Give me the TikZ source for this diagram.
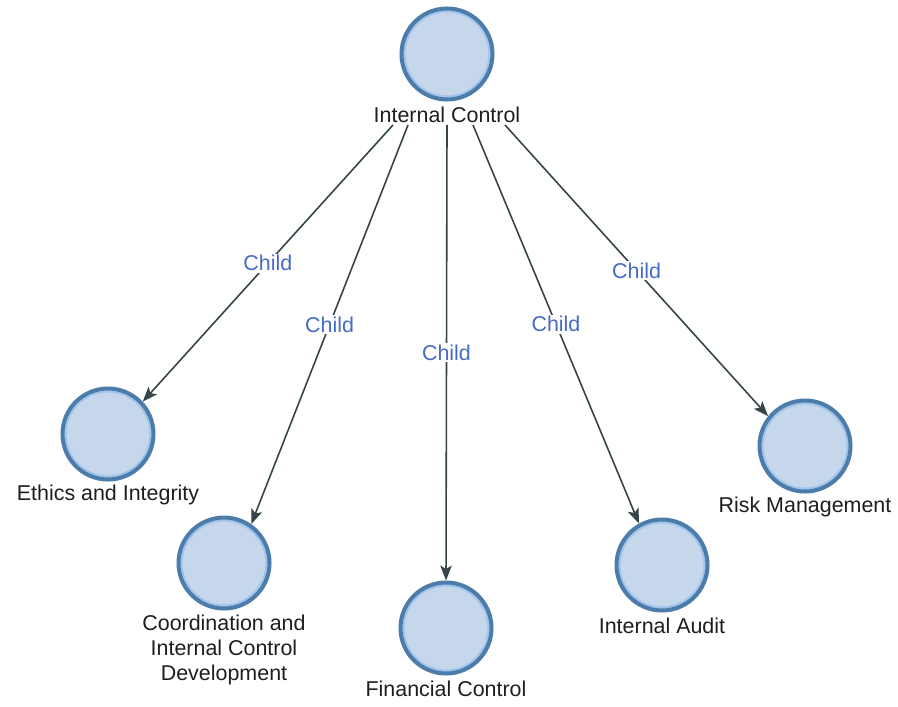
\documentclass[tikz,border=0pt]{standalone}
\usepackage{fontspec}
\setmainfont{Liberation Sans}
\usetikzlibrary{arrows.meta}
\definecolor{nodefill}{RGB}{198,214,235}
\definecolor{nodeline}{RGB}{76,124,170}
\definecolor{ringlight}{RGB}{160,196,236}
\definecolor{edgeline}{RGB}{52,68,72}
\definecolor{childblue}{RGB}{70,108,196}
\definecolor{textgray}{RGB}{30,30,30}
\begin{document}
\begin{tikzpicture}[x=0.02cm,y=-0.02cm,font=\fontsize{12.2}{14.2}\selectfont]
  \useasboundingbox (0,0) rectangle (898,706);

      \begin{scope}[every node/.style={circle,draw=nodeline,fill=nodefill,line width=2.3pt,minimum size=1.82cm,
          path picture={\draw[ringlight,line width=1.2pt] (path picture bounding box.center) circle (0.85cm);}}]
        \node (ic)  at (447,54)  {};
        \node (eth) at (108,434) {};
        \node (cod) at (224,563) {};
        \node (fin) at (446,628) {};
        \node (ia)  at (662,565) {};
        \node (rm)  at (805,446) {};
      \end{scope}

      \begin{scope}[every node/.style={text=textgray,align=center,inner sep=1pt}]
        \node (icl)  at (447,115) {Internal Control};
        \node (ethl) at (108,495) {Ethics and Integrity};
        \node (codl) at (224,650) {Coordination and\\Internal Control\\Development};
        \node (finl) at (446,689) {Financial Control};
        \node (ial)  at (662,626) {Internal Audit};
        \node (rml)  at (805,507) {Risk Management};
      \end{scope}

      \begin{scope}[every node/.style={fill=white,text=childblue,inner sep=1pt}]

        \begin{scope}[every edge/.style={draw=edgeline,line width=0.9pt,-{Stealth[length=8.5pt,width=6.5pt,inset=2pt]}}]
          \path ([xshift=-1.08cm]icl.south) edge node {Child} (eth.43);
          \path ([xshift=-0.78cm]icl.south) edge node {Child} (cod.55);
          \path (icl.south)                 edge node {Child} (fin.north);
          \path ([xshift=0.52cm]icl.south)  edge node {Child} (ia.119);
          \path ([xshift=1.16cm]icl.south)  edge node {Child} (rm.141);
        \end{scope}
      \end{scope}

    \end{tikzpicture}
\end{document}
